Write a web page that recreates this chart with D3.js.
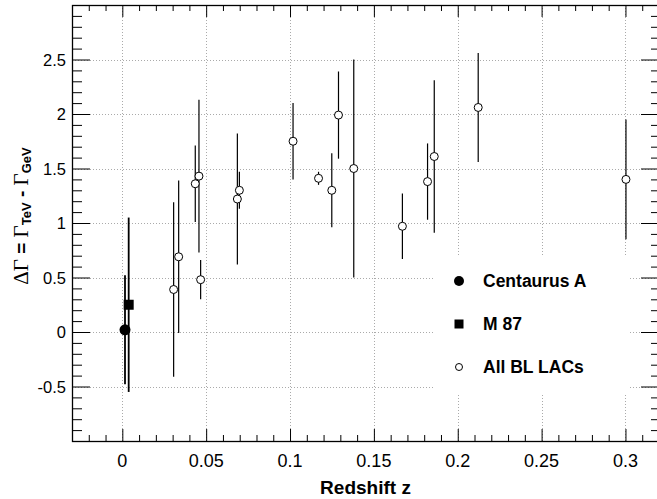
<!DOCTYPE html>
<html>
<head>
<meta charset="utf-8">
<script src="https://cdn.jsdelivr.net/npm/d3@7"></script>
<style>
  body { margin: 0; background: #fff; }
  svg { display: block; }
  .tick line { stroke: #000; }
  .domain { display: none; }
</style>
</head>
<body>
<div id="chart"></div>
<script>
// data
let blLacZ = [0.0306, 0.0336, 0.0435, 0.0457, 0.0467, 0.0686, 0.0698, 0.1018, 0.117,
  0.1249, 0.1289, 0.138, 0.167, 0.182, 0.186, 0.2122, 0.3003];
let blLacDG = [0.39, 0.69, 1.36, 1.43, 0.48, 1.22, 1.30, 1.75, 1.41,
  1.30, 1.99, 1.50, 0.97, 1.38, 1.61, 2.06, 1.40];
let blLacErr = [0.80, 0.70, 0.35, 0.70, 0.18, 0.60, 0.17, 0.35, 0.06,
  0.34, 0.40, 1.00, 0.30, 0.35, 0.70, 0.50, 0.55];

let cenA = {z: 0.0016, dg: 0.02, err: 0.50};
let m87 = {z: 0.0038, dg: 0.25, err: 0.80};

let xTicks = [0, 0.05, 0.1, 0.15, 0.2, 0.25, 0.3];
let xTickLabels = ["0", "0.05", "0.1", "0.15", "0.2", "0.25", "0.3"];
let yTicks = [-0.5, 0, 0.5, 1, 1.5, 2, 2.5];
let yTickLabels = ["-0.5", "0", "0.5", "1", "1.5", "2", "2.5"];
let legendLabels = ["Centaurus A", "M 87", "All BL LACs"];

// set SVG size and frame
let svgWidth = 657;
let svgHeight = 499;
let frame = {left: 72, top: 5, right: 659, bottom: 441};

let svg = d3.select("#chart")
  .append("svg")
  .attr("width", svgWidth)
  .attr("height", svgHeight)
  .style("font-family", "'Liberation Sans', Arial, Helvetica, sans-serif");

let x = d3.scaleLinear().domain([-0.03, 0.32]).range([frame.left, frame.right]);
let y = d3.scaleLinear().domain([-1, 3]).range([frame.bottom, frame.top]);

let xMinor = d3.range(-0.03, 0.3201, 0.01).map(d => +d.toFixed(2)).filter(d => !xTicks.includes(d));
let yMinor = d3.range(-1, 3.001, 0.1).map(d => +d.toFixed(1)).filter(d => !yTicks.includes(d));

// grid
let grid = svg.append("g")
  .attr("stroke", "#aaa")
  .attr("stroke-width", 1)
  .attr("stroke-dasharray", "1,2");
grid.selectAll(".gx").data(xTicks).join("line")
  .attr("x1", d => Math.round(x(d)) + 0.5).attr("x2", d => Math.round(x(d)) + 0.5)
  .attr("y1", frame.top).attr("y2", frame.bottom);
grid.selectAll(".gy").data(yTicks).join("line")
  .attr("y1", d => Math.round(y(d)) + 0.5).attr("y2", d => Math.round(y(d)) + 0.5)
  .attr("x1", frame.left).attr("x2", frame.right);

// legend box hides the grid behind it
svg.append("rect")
  .attr("x", 433).attr("y", 257)
  .attr("width", 196).attr("height", 138)
  .attr("fill", "#fff");

// error bars
let bars = svg.append("g").attr("stroke", "#000");
bars.selectAll("line")
  .data(blLacZ.map((z, i) => ({z: z, dg: blLacDG[i], err: blLacErr[i]})))
  .join("line")
  .attr("x1", d => x(d.z)).attr("x2", d => x(d.z))
  .attr("y1", d => y(d.dg + d.err)).attr("y2", d => y(d.dg - d.err))
  .attr("stroke-width", 1.2);

[cenA, m87].forEach(d => {
  bars.append("line")
    .attr("x1", x(d.z)).attr("x2", x(d.z))
    .attr("y1", y(d.dg + d.err)).attr("y2", y(d.dg - d.err))
    .attr("stroke-width", 1.8);
});

// markers
svg.append("g").selectAll("circle")
  .data(blLacZ)
  .join("circle")
  .attr("cx", d => x(d))
  .attr("cy", (d, i) => y(blLacDG[i]))
  .attr("r", 4)
  .attr("fill", "#fff")
  .attr("stroke", "#000")
  .attr("stroke-width", 1);

svg.append("circle")
  .attr("cx", x(cenA.z)).attr("cy", y(cenA.dg))
  .attr("r", 5.5).attr("fill", "#000");

svg.append("rect")
  .attr("x", x(m87.z) - 5).attr("y", y(m87.dg) - 5)
  .attr("width", 10).attr("height", 10)
  .attr("fill", "#000");

// axes, ticks inside the frame
function tickAxis(axisFn, scale, values, size, transform) {
  svg.append("g")
    .attr("transform", transform)
    .call(axisFn(scale).tickValues(values).tickSize(size).tickFormat(""))
    .selectAll("text").remove();
}
tickAxis(d3.axisBottom, x, xTicks, -12, `translate(0,${frame.bottom})`);
tickAxis(d3.axisBottom, x, xMinor, -6, `translate(0,${frame.bottom})`);
tickAxis(d3.axisTop, x, xTicks, -12, `translate(0,${frame.top})`);
tickAxis(d3.axisTop, x, xMinor, -6, `translate(0,${frame.top})`);
tickAxis(d3.axisLeft, y, yTicks, -18, `translate(${frame.left},0)`);
tickAxis(d3.axisLeft, y, yMinor, -10, `translate(${frame.left},0)`);
tickAxis(d3.axisRight, y, yTicks, -18, `translate(${frame.right},0)`);
tickAxis(d3.axisRight, y, yMinor, -8, `translate(${frame.right},0)`);

// tick labels
svg.append("g").selectAll("text")
  .data(xTicks)
  .join("text")
  .attr("x", d => x(d))
  .attr("y", 467)
  .attr("text-anchor", "middle")
  .attr("font-size", 18)
  .text((d, i) => xTickLabels[i]);

svg.append("g").selectAll("text")
  .data(yTicks)
  .join("text")
  .attr("x", 66)
  .attr("y", d => y(d) + 6)
  .attr("text-anchor", "end")
  .attr("font-size", 16.5)
  .text((d, i) => yTickLabels[i]);

// frame
svg.append("rect")
  .attr("x", frame.left + 0.5).attr("y", frame.top + 0.5)
  .attr("width", frame.right - frame.left).attr("height", frame.bottom - frame.top)
  .attr("fill", "none")
  .attr("stroke", "#000")
  .attr("stroke-width", 1.3);

// axis titles
svg.append("text")
  .attr("x", (frame.left + frame.right) / 2)
  .attr("y", 494)
  .attr("text-anchor", "middle")
  .attr("font-size", 19)
  .attr("font-weight", "bold")
  .text("Redshift z");

let yTitle = svg.append("text")
  .attr("transform", "translate(28,216) rotate(-90)")
  .attr("text-anchor", "middle")
  .attr("font-size", 19)
  .attr("font-weight", "bold");
let serif = "'Liberation Serif', 'Times New Roman', serif";
yTitle.append("tspan").attr("font-family", serif).attr("font-weight", "normal").attr("font-size", 21).text("ΔΓ");
yTitle.append("tspan").text(" = ");
yTitle.append("tspan").attr("font-family", serif).attr("font-weight", "normal").attr("font-size", 21).text("Γ");
yTitle.append("tspan").attr("font-size", 13).attr("dy", 3).text("TeV");
yTitle.append("tspan").attr("dy", -3).text(" - ");
yTitle.append("tspan").attr("font-family", serif).attr("font-weight", "normal").attr("font-size", 21).text("Γ");
yTitle.append("tspan").attr("font-size", 13).attr("dy", 3).text("GeV");

// legend
let legendY = [281, 324, 367];
let legend = svg.append("g");
legend.append("circle").attr("cx", 459).attr("cy", legendY[0]).attr("r", 5).attr("fill", "#000");
legend.append("rect").attr("x", 454.5).attr("y", legendY[1] - 4.5).attr("width", 9).attr("height", 9).attr("fill", "#000");
legend.append("circle").attr("cx", 459).attr("cy", legendY[2]).attr("r", 3.5)
  .attr("fill", "#fff").attr("stroke", "#000").attr("stroke-width", 1);
legend.selectAll("text")
  .data(legendLabels)
  .join("text")
  .attr("x", 483)
  .attr("y", (d, i) => legendY[i] + 6)
  .attr("font-size", 17.5)
  .attr("font-weight", "bold")
  .text(d => d);
</script>
</body>
</html>
